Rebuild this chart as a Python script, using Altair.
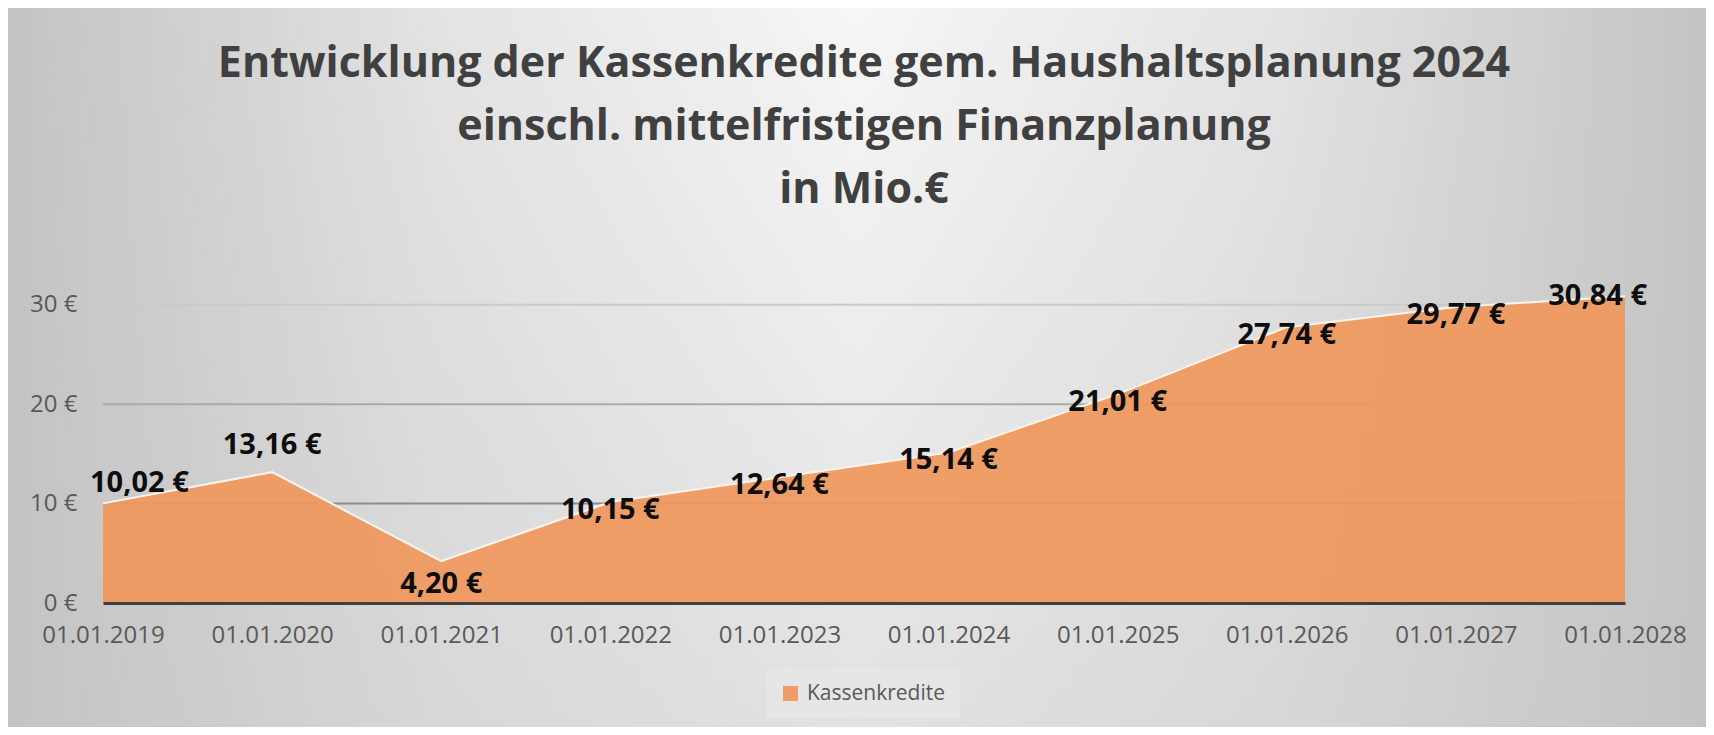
import altair as alt
import pandas as pd

# ---------------- data ----------------
dates = ["01.01.2019", "01.01.2020", "01.01.2021", "01.01.2022", "01.01.2023",
         "01.01.2024", "01.01.2025", "01.01.2026", "01.01.2027", "01.01.2028"]
values = [10.02, 13.16, 4.20, 10.15, 12.64, 15.14, 21.01, 27.74, 29.77, 30.84]
series_name = "Kassenkredite"
y_ticks = [0, 10, 20, 30]
title_lines = [
    "Entwicklung der Kassenkredite gem. Haushaltsplanung 2024",
    "einschl. mittelfristigen Finanzplanung",
    "in Mio.€",
]

# ---------------- layout ----------------
W, H = 1522, 348
PL, PT, PR, PB = 95, 247, 81, 124
FONT = "Open Sans"

df = pd.DataFrame({
    "datum": dates,
    "wert": values,
    "serie": [series_name] * len(dates),
    "ord": list(range(len(dates))),
})
grid_df = pd.DataFrame({"v": [t for t in y_ticks if t > 0]})

x_axis = alt.Axis(title=None, labelAngle=0, labelFont=FONT, labelFontSize=24,
                  labelColor="#595959", labelPadding=20, ticks=False,
                  domainColor="#404040", domainWidth=3, grid=False, zindex=1)
y_axis = alt.Axis(title=None, values=y_ticks, labelExpr="datum.value + ' €'",
                  labelFont=FONT, labelFontSize=24, labelColor="#595959",
                  labelPadding=26, ticks=False, domain=False, grid=False, zindex=1)
x_scale = alt.Scale(type="point", padding=0)
y_scale = alt.Scale(domain=[0, 35], nice=False)

X = alt.X("datum:O", sort=dates, scale=x_scale, axis=x_axis)
Y = alt.Y("wert:Q", scale=y_scale, axis=y_axis)

# ---------------- background ----------------
bg_data = alt.Data(values=[{"k": 0}])
bg_h = alt.Chart(bg_data).mark_rect(
    fill={"gradient": "linear", "x1": 0, "y1": 0, "x2": 1, "y2": 0,
          "stops": [{"offset": 0, "color": "#c3c3c3"},
                    {"offset": 0.25, "color": "#e3e3e3"},
                    {"offset": 0.5, "color": "#f6f6f6"},
                    {"offset": 0.75, "color": "#e3e3e3"},
                    {"offset": 1, "color": "#c3c3c3"}]},
    strokeWidth=0,
).encode(x=alt.value(-PL), x2=alt.value(W + PR), y=alt.value(-PT), y2=alt.value(H + PB))

bg_v = alt.Chart(bg_data).mark_rect(
    fill={"gradient": "linear", "x1": 0, "y1": 0, "x2": 0, "y2": 1,
          "stops": [{"offset": 0, "color": "rgba(196,196,196,0)"},
                    {"offset": 1, "color": "rgba(196,196,196,0.40)"}]},
    strokeWidth=0,
).encode(x=alt.value(-PL), x2=alt.value(W + PR), y=alt.value(-PT), y2=alt.value(H + PB))

# ---------------- gridlines ----------------
grid = alt.Chart(grid_df).mark_rule(strokeWidth=2).encode(
    y=alt.Y("v:Q", scale=y_scale, axis=y_axis),
    x=alt.value(0), x2=alt.value(W),
    stroke=alt.Stroke("v:Q", scale=alt.Scale(domain=[10, 30], range=["#8c8c8c", "#cacaca"]),
                      legend=None),
)

base = alt.Chart(df)

area = base.mark_area(opacity=0.93, interpolate="linear").encode(
    x=X, y=Y,
    color=alt.Color("serie:N", scale=alt.Scale(range=["#F0985C"]),
                    legend=alt.Legend(title=None, orient="none", legendX=663, legendY=414,
                                      direction="horizontal", symbolType="square",
                                      symbolSize=225, symbolStrokeWidth=0,
                                      symbolOpacity=0.93, labelFont=FONT,
                                      labelFontSize=21, labelColor="#595959",
                                      labelOffset=6, fillColor="#e6e6e6",
                                      padding=14, zindex=1)),
)

top_line = base.mark_line(color="#fff4ec", strokeWidth=2).encode(x=X, y=Y)

# ---------------- labels ----------------
lab_base = base.transform_window(
    prv="lag(wert)", nxt="lead(wert)", sort=[alt.SortField("ord")]
).transform_calculate(
    lab="replace(format(datum.wert, '.2f'), '.', ',') + ' €'",
    inner="isValid(datum.prv) && isValid(datum.nxt)",
    peak="datum.wert > datum.prv && datum.wert > datum.nxt",
    trough="datum.wert < datum.prv && datum.wert < datum.nxt",
)

text_kw = dict(font=FONT, fontSize=29, fontWeight="bold", color="#0d0d0d", baseline="middle")


def lab_layer(expr, **kw):
    return lab_base.transform_filter(expr).mark_text(**text_kw, **kw).encode(
        x=X, y=Y, text="lab:N")


lab_first = lab_layer("!isValid(datum.prv)", align="left", dx=-13, dy=-20)
lab_last = lab_layer("!isValid(datum.nxt)", align="right", dx=22)
lab_peak = lab_layer("datum.inner && datum.peak", align="center", dy=-27)
lab_trough = lab_layer("datum.inner && datum.trough", align="center", dy=23)
lab_mid = lab_layer("datum.inner && !datum.peak && !datum.trough", align="center", dy=8)

chart = alt.layer(
    bg_h, bg_v, grid, area, top_line, lab_first, lab_last, lab_peak, lab_trough, lab_mid
).properties(
    width=W, height=H,
    title=alt.TitleParams(text=title_lines, font=FONT, fontSize=43, fontWeight="bold",
                          color="#404040", lineHeight=63, anchor="middle", frame="group",
                          offset=-204, zindex=1),
    autosize=alt.AutoSizeParams(type="none"),
    padding={"left": PL, "top": PT, "right": PR, "bottom": PB},
).configure_view(stroke=None)

chart.save("out.html", embed_options={"renderer": "svg", "actions": False})
